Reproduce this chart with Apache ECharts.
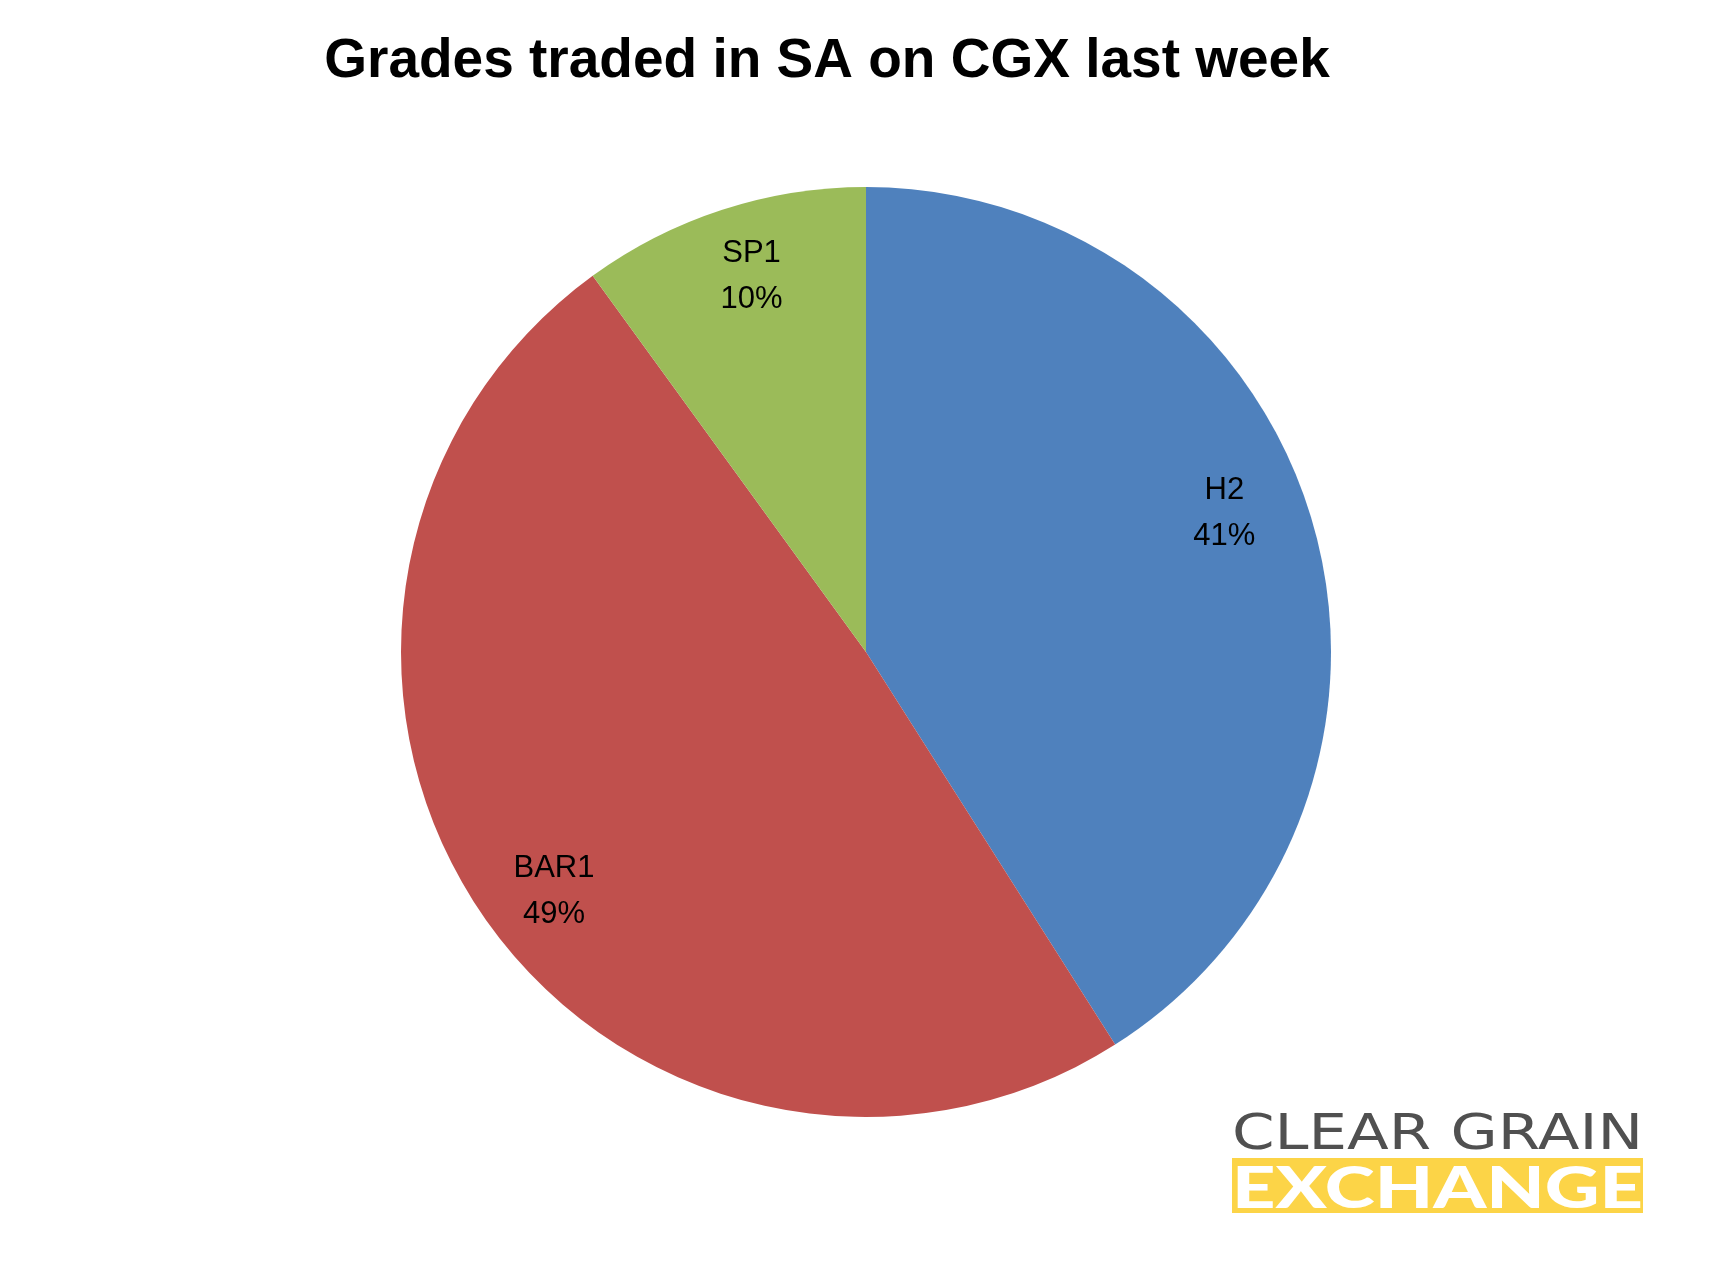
<!DOCTYPE html>
<html>
<head>
<meta charset="utf-8">
<script src="https://cdn.jsdelivr.net/npm/echarts@6/dist/echarts.min.js"></script>
<style>
html,body{margin:0;padding:0;background:#fff;}
#chart{width:1732px;height:1286px;}
</style>
</head>
<body>
<div id="chart"></div>
<script>
const titleText = "Grades traded in SA on CGX last week";
const categories = ["H2", "BAR1", "SP1"];
const shares = [41, 49, 10];
const sliceColors = ["#4F81BD", "#C0504D", "#9BBB59"];
// label nudges (styling only), px
const labelNudges = [[-19, -29], [13, 19], [7, -2]];

function measure(font, text) {
  const c = document.createElement('canvas').getContext('2d');
  c.font = font;
  return c.measureText(text).width;
}
const logoTopFont = '50px "DejaVu Sans"';
const logoBotFont = '900 58px "Lato"';
const logoW = 411;
const topScale = logoW / measure(logoTopFont, 'CLEAR GRAIN');
const botScale = logoW / measure(logoBotFont, 'EXCHANGE');

const chart = echarts.init(document.getElementById('chart'));
const pieData = categories.map((c, i) => ({ name: c, value: shares[i], itemStyle: { color: sliceColors[i] } }));
const labelData = categories.map((c, i) => ({ name: c, value: shares[i], label: { offset: labelNudges[i] } }));

chart.setOption({
  backgroundColor: '#ffffff',
  animation: false,
  title: {
    text: titleText,
    left: 822, top: 57, textAlign: 'center', textVerticalAlign: 'middle',
    textStyle: { fontFamily: 'Liberation Sans', fontWeight: 'bold', fontSize: 55, color: '#000' }
  },
  series: [
    {
      type: 'pie', center: [866, 652], radius: [0, 465], startAngle: 90, clockwise: true,
      data: pieData, label: { show: false }, labelLine: { show: false },
      itemStyle: { borderWidth: 0 }, silent: true
    },
    {
      type: 'pie', center: [866, 652], radius: [315, 465], startAngle: 90, clockwise: true,
      data: labelData, silent: true,
      itemStyle: { color: 'rgba(0,0,0,0)', borderWidth: 0 },
      labelLine: { show: false },
      label: {
        show: true, position: 'inside', formatter: '{b}\n{d}%',
        fontFamily: 'Liberation Sans', fontSize: 31, lineHeight: 46, color: '#000'
      }
    }
  ],
  graphic: [
    { type: 'text', x: 1232, y: 1136, scaleX: topScale, originX: 0,
      style: { text: 'CLEAR GRAIN', font: logoTopFont, fill: '#505050', align: 'left', verticalAlign: 'middle' } },
    { type: 'rect', shape: { x: 1232, y: 1158, width: 411, height: 55 }, style: { fill: '#FCD447' } },
    { type: 'text', x: 1232, y: 1189, scaleX: botScale, originX: 0,
      style: { text: 'EXCHANGE', font: logoBotFont, fill: '#ffffff', align: 'left', verticalAlign: 'middle' } }
  ]
});
</script>
</body>
</html>
